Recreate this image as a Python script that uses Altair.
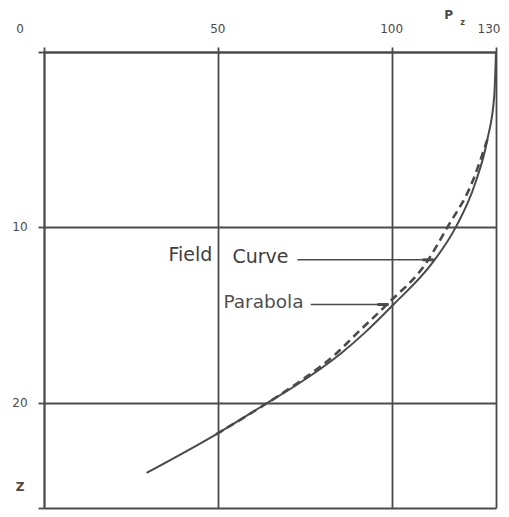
import altair as alt
import pandas as pd

# Parabola (solid): depth z and pressure P
parab_z = [0, 2.5, 5, 7.5, 10, 12, 14.4, 16, 17.2, 19, 20, 21.8, 24]
parab_p = [130, 129.5, 127.5, 124, 118.4, 111.8, 100.5, 92.3, 85.3, 72.5, 64.3, 49.5, 29.5]

# Field curve (dashed)
field_z = [5, 7.5, 10, 12, 14.4, 16, 17.2, 19, 20, 21.8]
field_p = [127.5, 123, 116, 110, 98.6, 90.2, 84, 72, 64.3, 49.5]

x_ticks = [0, 50, 100, 130]
z_ticks = [0, 10, 20, 26]

top_labels = ["50", "100"]
top_label_vals = [50, 100]
left_labels = ["10", "20"]
left_label_vals = [10, 20]

# leader lines: start P, end P, z
lead_p1 = [72.9, 76.7]
lead_p2 = [112.1, 99.1]
lead_z = [11.85, 14.4]

GRAY = "#4a4a4a"
TXT = "#4a4a4a"
FONT = "DejaVu Sans"

xs = alt.Scale(domain=[0, 130], nice=False, zero=False)
ys = alt.Scale(domain=[0, 26], reverse=True, nice=False, zero=False)

x_axis = alt.Axis(orient="top", values=x_ticks, grid=True, labels=False, title=None,
                  ticks=True, tickSize=5, tickColor=GRAY, tickWidth=1.8, gridColor=GRAY,
                  gridWidth=1.8, gridOpacity=1, domainColor=GRAY, domainWidth=1.8)
y_axis = alt.Axis(orient="left", values=z_ticks, grid=True, labels=False, title=None,
                  ticks=True, tickSize=6, tickColor=GRAY, tickWidth=1.8, gridColor=GRAY,
                  gridWidth=1.8, gridOpacity=1, domainColor=GRAY, domainWidth=1.8)

df_par = pd.DataFrame({"P": parab_p, "z": parab_z})
df_fld = pd.DataFrame({"P": field_p, "z": field_z})

solid = alt.Chart(df_par).mark_line(color=GRAY, strokeWidth=2, interpolate="monotone").encode(
    x=alt.X("P:Q", scale=xs, axis=x_axis),
    y=alt.Y("z:Q", scale=ys, axis=y_axis),
    order="z:Q",
)

dashed = alt.Chart(df_fld).mark_line(color=GRAY, strokeWidth=2.6, strokeDash=[8, 5],
                                     interpolate="monotone").encode(
    x=alt.X("P:Q", scale=xs, axis=x_axis),
    y=alt.Y("z:Q", scale=ys, axis=y_axis),
    order="z:Q",
)

df_lead = pd.DataFrame({"p1": lead_p1, "p2": lead_p2, "z": lead_z})
leaders = alt.Chart(df_lead).mark_rule(color=GRAY, strokeWidth=1.5).encode(
    x=alt.X("p1:Q", scale=xs, axis=x_axis), x2="p2:Q", y=alt.Y("z:Q", scale=ys, axis=y_axis)
)
df_lead["p0"] = df_lead["p2"] - 3.2
lead_ends = alt.Chart(df_lead).mark_rule(color=GRAY, strokeWidth=3).encode(
    x=alt.X("p0:Q", scale=xs, axis=x_axis), x2="p2:Q", y=alt.Y("z:Q", scale=ys, axis=y_axis)
)

df_top = pd.DataFrame({"v": top_label_vals, "t": top_labels})
top_txt = alt.Chart(df_top).mark_text(font=FONT, fontSize=12, color=TXT,
                                      baseline="middle", align="center", dy=-23).encode(
    x=alt.X("v:Q", scale=xs, axis=x_axis), y=alt.value(0), text="t:N"
)

t130 = alt.Chart(pd.DataFrame({"v": [130], "t": ["130"]})).mark_text(
    font=FONT, fontSize=12, color=TXT, baseline="middle", align="center",
    dx=-7, dy=-23
).encode(x=alt.X("v:Q", scale=xs, axis=x_axis), y=alt.value(0), text="t:N")

t0 = alt.Chart(pd.DataFrame({"v": [0], "t": ["0"]})).mark_text(
    font=FONT, fontSize=12, color=TXT, baseline="middle", align="center",
    dx=-24, dy=-23
).encode(x=alt.X("v:Q", scale=xs, axis=x_axis), y=alt.value(0), text="t:N")

df_left = pd.DataFrame({"v": left_label_vals, "t": left_labels})
left_txt = alt.Chart(df_left).mark_text(font=FONT, fontSize=12, color=TXT,
                                        baseline="middle", align="center", dx=-24).encode(
    x=alt.value(0), y=alt.Y("v:Q", scale=ys, axis=y_axis), text="t:N"
)

tz = alt.Chart(pd.DataFrame({"v": [24.8], "t": ["Z"]})).mark_text(
    font=FONT, fontSize=12, fontWeight="bold", color=TXT, baseline="middle", align="center", dx=-24
).encode(x=alt.value(0), y=alt.Y("v:Q", scale=ys, axis=y_axis), text="t:N")

tp = alt.Chart(pd.DataFrame({"v": [116.4], "t": ["P"]})).mark_text(
    font=FONT, fontSize=12, fontWeight="bold", color=TXT, baseline="middle", align="center", dy=-37
).encode(x=alt.X("v:Q", scale=xs, axis=x_axis), y=alt.value(0), text="t:N")
tpz = alt.Chart(pd.DataFrame({"v": [120.4], "t": ["z"]})).mark_text(
    font=FONT, fontSize=8, fontWeight="bold", color=TXT, baseline="middle", align="center", dy=-29
).encode(x=alt.X("v:Q", scale=xs, axis=x_axis), y=alt.value(0), text="t:N")

field_lbl = alt.Chart(pd.DataFrame({"P": [48.4], "z": [11.6], "t": ["Field"]})).mark_text(
    font=FONT, fontSize=19, color="#3e3e3e", baseline="middle", align="right"
).encode(x=alt.X("P:Q", scale=xs, axis=x_axis), y=alt.Y("z:Q", scale=ys, axis=y_axis), text="t:N")
curve_lbl = alt.Chart(pd.DataFrame({"P": [54.2], "z": [11.68], "t": ["Curve"]})).mark_text(
    font=FONT, fontSize=19, color="#3e3e3e", baseline="middle", align="left"
).encode(x=alt.X("P:Q", scale=xs, axis=x_axis), y=alt.Y("z:Q", scale=ys, axis=y_axis), text="t:N")
parab_lbl = alt.Chart(pd.DataFrame({"P": [51.6], "z": [14.25], "t": ["Parabola"]})).mark_text(
    font=FONT, fontSize=18.5, color="#505050", baseline="middle", align="left"
).encode(x=alt.X("P:Q", scale=xs, axis=x_axis), y=alt.Y("z:Q", scale=ys, axis=y_axis), text="t:N")

chart = alt.layer(
    solid, dashed, leaders, lead_ends, top_txt, t130, t0, left_txt, tz, tp, tpz,
    field_lbl, curve_lbl, parab_lbl
).properties(
    width=452, height=456,
    autosize=alt.AutoSizeParams(type="none"),
    padding={"left": 36, "top": 44, "right": 5, "bottom": 5},
    background="white",
).configure_view(stroke=None)

chart.save("out.html", embed_options={"renderer": "svg", "actions": False})
